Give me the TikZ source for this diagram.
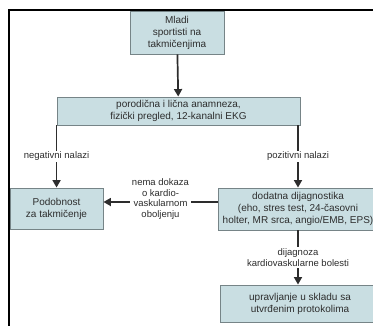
\documentclass[tikz,border=0pt]{standalone}
\usepackage{fontspec}
\setmainfont{Liberation Sans}
\usetikzlibrary{arrows.meta}
\definecolor{boxfill}{RGB}{201,222,226}
\definecolor{boxline}{RGB}{118,132,135}
\definecolor{ink}{RGB}{45,45,45}
\begin{document}
\begin{tikzpicture}[x=1pt,y=-1pt,
  box/.style={draw=boxline, fill=boxfill, line width=0.9pt, align=center,
    inner sep=0pt, text=ink, font=\fontsize{10}{12}\selectfont},
  flow/.style={draw=ink, line width=1.7pt,
    -{Triangle[length=7.5pt,width=8pt]}},
  lbl/.style={fill=white, align=center, inner sep=1.5pt, text=ink,
    font=\fontsize{9.5}{10.5}\selectfont}]
\useasboundingbox (0,0) rectangle (373,325);
\clip (0,0) rectangle (373,325);
\fill[white] (0,0) rectangle (373,325);

% boxes
\node[box, minimum width=94pt, minimum height=43pt] (start) at (177,32.5)
  {Mladi\\sportisti na\\takmičenjima};
\node[box, minimum width=243pt, minimum height=28pt] (exam) at (178.5,111)
  {porodična i lična anamneza,\\fizički pregled, 12-kanalni EKG};
\node[box, minimum width=93pt, minimum height=41pt] (fit) at (56.5,208.5)
  {Podobnost\\za takmičenje};
\node[box, minimum width=160pt, minimum height=42pt] (extra) at (298,209)
  {dodatna dijagnostika\\(eho, stres test, 24-časovni\\holter, MR srca, angio/EMB, EPS)};
\node[box, minimum width=160pt, minimum height=37pt] (manage) at (300,303.5)
  {upravljanje u skladu sa\\utvrđenim protokolima};

% page frame
\draw[line width=2pt] (9,340) -- (9,10) -- (390,10);

% connectors
\coordinate (ybranch) at (0,202);
\draw[flow] (start) -- (exam);
\draw[flow] (exam.south west) -- node[lbl]{negativni nalazi}
  (exam.south west |- fit.north);
\draw[flow] (extra.north |- exam.south) -- node[lbl]{pozitivni nalazi}
  (extra.north);
\draw[flow] (extra.west |- ybranch) -- node[lbl, yshift=3pt]
  {nema dokaza\\o kardio-\\vaskularnom\\oboljenju} (fit.east |- ybranch);
\draw[flow] (extra.south) -- node[lbl]{dijagnoza\\kardiovaskularne bolesti}
  (extra.south |- manage.north);
\end{tikzpicture}
\end{document}
